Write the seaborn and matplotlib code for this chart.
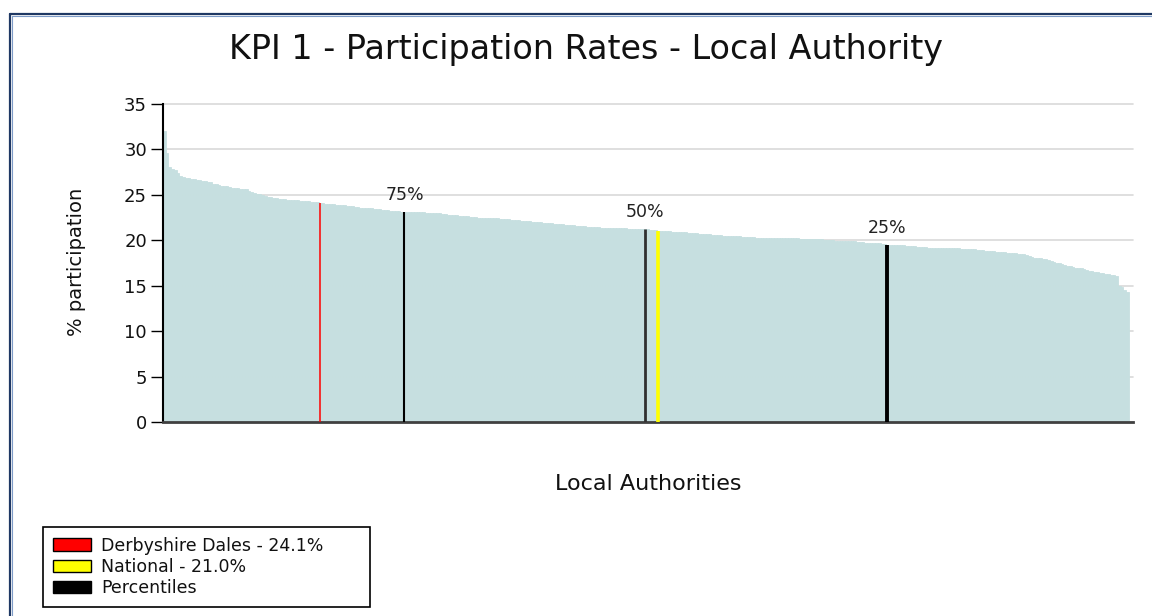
import numpy as np
import pandas as pd
import matplotlib
matplotlib.use("Agg")
import matplotlib.pyplot as plt
from matplotlib.patches import Patch
from matplotlib.lines import Line2D
import seaborn as sns

# ---------------- data ----------------
participation = [
    32.0, 29.6, 28.1, 27.9, 27.7, 27.4, 27.1, 27.0,
    26.9, 26.9, 26.8, 26.8,
    26.6, 26.6, 26.5, 26.5, 26.4, 26.4,
    26.2, 26.2,
    26.1, 26.0, 26.0, 26.0, 25.9,
    25.7, 25.7, 25.7, 25.6, 25.6, 25.6,
    25.4, 25.3,
    25.2, 25.1, 25.1, 25.0,
    24.9, 24.8, 24.8, 24.7,
    24.6, 24.5, 24.5, 24.5, 24.4,
    24.4, 24.4, 24.4, 24.4, 24.3, 24.3, 24.3, 24.3, 24.2, 24.2, 24.2, 24.1,
    24.1, 24.0, 24.0, 24.0, 24.0,
    23.9, 23.9, 23.9, 23.9, 23.8, 23.8, 23.8,
    23.7, 23.7, 23.6, 23.6, 23.6, 23.5, 23.5,
    23.4, 23.4, 23.4, 23.3, 23.3, 23.3, 23.2, 23.2, 23.2, 23.2, 23.1,
    23.1, 23.1, 23.1, 23.1, 23.1, 23.1, 23.1, 23.1, 23.0, 23.0, 23.0, 23.0, 23.0, 23.0,
    22.9, 22.9, 22.8, 22.8, 22.8, 22.8, 22.7, 22.7, 22.7, 22.7,
    22.6, 22.6, 22.6, 22.5, 22.5, 22.5, 22.5, 22.4, 22.4, 22.4,
    22.4, 22.3, 22.3, 22.3, 22.3, 22.2, 22.2, 22.2, 22.2, 22.1,
    22.1, 22.1, 22.1, 22.0, 22.0, 22.0, 22.0, 21.9, 21.9, 21.9,
    21.9, 21.8, 21.8, 21.8, 21.8, 21.7, 21.7, 21.7, 21.7, 21.6,
    21.6, 21.6, 21.6, 21.5, 21.5, 21.5, 21.5, 21.5,
    21.4, 21.4, 21.4, 21.4, 21.4, 21.3, 21.3,
    21.3, 21.3, 21.3, 21.2, 21.2, 21.2, 21.2, 21.2, 21.2, 21.2,
    21.2,
    21.1, 21.1, 21.1, 21.0,
    21.0, 21.0, 21.0, 21.0, 20.9, 20.9, 20.9, 20.9, 20.9, 20.9, 20.8, 20.8, 20.8, 20.8,
    20.7, 20.7, 20.7, 20.7, 20.7, 20.6, 20.6, 20.6,
    20.6, 20.5, 20.5, 20.5, 20.5, 20.5, 20.5, 20.5, 20.4, 20.4, 20.4,
    20.4, 20.4, 20.3, 20.3, 20.3, 20.3, 20.3, 20.3, 20.3, 20.3, 20.3, 20.2, 20.2, 20.2,
    20.2, 20.2, 20.2, 20.2, 20.1, 20.1, 20.1, 20.1, 20.1, 20.1, 20.1, 20.1, 20.1, 20.0, 20.0, 20.0,
    20.0, 19.9, 19.9, 19.9, 19.9, 19.9, 19.9, 19.9, 19.9, 19.8, 19.8,
    19.8, 19.7, 19.7, 19.7, 19.7, 19.7, 19.7, 19.6, 19.6,
    19.5,
    19.5, 19.5, 19.5, 19.5, 19.5, 19.5, 19.4, 19.4, 19.4, 19.4, 19.3, 19.3, 19.3, 19.3,
    19.2, 19.2, 19.2, 19.2, 19.2, 19.2, 19.1, 19.1, 19.1, 19.1, 19.1, 19.1,
    19.0, 19.0, 19.0, 19.0, 19.0, 19.0,
    18.9, 18.9, 18.9, 18.8, 18.8, 18.8, 18.8, 18.7, 18.7, 18.7, 18.7,
    18.6, 18.6, 18.6, 18.6, 18.5, 18.5, 18.5, 18.4, 18.3, 18.2,
    18.1, 18.0, 18.0, 17.9, 17.9,
    17.8, 17.7, 17.6, 17.5, 17.5,
    17.4, 17.3, 17.2, 17.2, 17.1,
    17.0, 16.9, 16.9, 16.8, 16.7,
    16.6, 16.6, 16.5, 16.5,
    16.4, 16.4, 16.3, 16.3, 16.2, 16.2, 16.1,
    15.0, 14.9, 14.5, 14.3,
]

local_name = "Derbyshire Dales"
local_value = 24.1
national_value = 21.0
percentile_labels = ["75%", "50%", "25%"]
percentile_fracs = [0.25, 0.50, 0.75]   # position along the descending ranking

title = "KPI 1 - Participation Rates - Local Authority"
x_label = "Local Authorities"
y_label = "% participation"
y_ticks = [0, 5, 10, 15, 20, 25, 30, 35]

# ---------------- styling ----------------
BAR = "#c6dfe0"
W, H = 1152, 616

sns.set_theme(style="white")
plt.rcParams["font.family"] = ["DejaVu Sans"]

fig = plt.figure(figsize=(W / 100, H / 100), dpi=100)
fig.patch.set_facecolor("white")
ax = fig.add_axes([163 / W, 1 - 422 / H, (1133 - 163) / W, (422 - 104) / H])

vals = np.array(participation)
n = len(vals)
df = pd.DataFrame({"rank": np.arange(n), "pct": vals})

sns.barplot(data=df, x="rank", y="pct", native_scale=True, color=BAR,
            saturation=1, width=1.0, linewidth=0.6, edgecolor=BAR, ax=ax)

# highlight lines
local_idx = int(np.flatnonzero(np.isclose(vals, local_value))[0])
nat_idx = int(np.flatnonzero(np.isclose(vals, national_value))[0])
ax.vlines(local_idx, 0, vals[local_idx], colors="#ff0000", linewidth=1.1, zorder=5)
ax.vlines(nat_idx, 0, vals[nat_idx], colors="#ffff00", linewidth=2.6, zorder=5)

pct_widths = [1.5, 2.0, 2.8]
pct_colors = ["#000000", "#303030", "#000000"]
for lab, frac, lw, c in zip(percentile_labels, percentile_fracs, pct_widths, pct_colors):
    idx = int(np.rint((n - 1) * frac))
    ax.vlines(idx, 0, vals[idx], colors=c, linewidth=lw, zorder=5)
    ax.text(idx, vals[idx] + 0.9, lab, ha="center", va="bottom",
            fontsize=12.5, color="#222222")

# axes
ax.set_xlim(-0.5, n + 1.0)
ax.set_ylim(0, 35)
ax.set_yticks(y_ticks)
ax.set_yticklabels([str(t) for t in y_ticks])
ax.yaxis.grid(True, color="#d9d9d9", linewidth=1.2)
ax.xaxis.grid(False)
ax.set_axisbelow(True)
for gl in ax.get_ygridlines():
    gl.set_clip_on(False)
for s in ["top", "right"]:
    ax.spines[s].set_visible(False)
ax.spines["left"].set_color("black")
ax.spines["left"].set_linewidth(1.5)
ax.spines["bottom"].set_color("#404040")
ax.spines["bottom"].set_linewidth(2.0)
ax.tick_params(axis="y", direction="out", length=8.5, width=1.0, color="black",
               labelsize=13, labelcolor="#111111", pad=3, left=True)
ax.tick_params(axis="x", bottom=False, labelbottom=False)

ax.set_xlabel(x_label, fontsize=16, color="#111111")
ax.xaxis.set_label_coords(0.5, -(474 - 422) / 318)
ax.set_ylabel(y_label, fontsize=14, color="#111111")
ax.yaxis.set_label_coords((86 - 163) / 970, 0.503)

fig.text(586 / W, 1 - 50 / H, title, ha="center", va="center",
         fontsize=24, color="#111111")

# legend
handles = [
    Patch(facecolor="#ff0000", edgecolor="black", linewidth=1.0),
    Patch(facecolor="#ffff00", edgecolor="black", linewidth=1.0),
    Patch(facecolor="#000000", edgecolor="black", linewidth=1.0),
]
labels = [f"{local_name} - {local_value:.1f}%", f"National - {national_value:.1f}%", "Percentiles"]
leg = fig.legend(handles=handles, labels=labels, loc="lower left",
                 bbox_to_anchor=(43 / W, 1 - 607 / H, 327 / W, 83 / H), mode="expand",
                 fontsize=12.5, frameon=True, fancybox=False, edgecolor="black",
                 framealpha=1, borderpad=0.55, labelspacing=0.2, handlelength=2.2,
                 handleheight=0.7, handletextpad=0.6, borderaxespad=0)
leg.get_frame().set_linewidth(1.2)
for t in leg.get_texts():
    t.set_color("#111111")

# window frame lines (top and left)
fig.add_artist(Line2D([10 / W, 1], [1 - 14 / H] * 2, color="#1f3864", lw=1.6,
                      transform=fig.transFigure))
fig.add_artist(Line2D([11.5 / W, 1], [1 - 15.8 / H] * 2, color="#7f9cc8", lw=0.8,
                      transform=fig.transFigure))
fig.add_artist(Line2D([10 / W] * 2, [0, 1 - 14 / H], color="#1f3864", lw=1.6,
                      transform=fig.transFigure))
fig.add_artist(Line2D([11.8 / W] * 2, [0, 1 - 15.8 / H], color="#7f9cc8", lw=0.8,
                      transform=fig.transFigure))

fig.savefig("out.png", dpi=100)
